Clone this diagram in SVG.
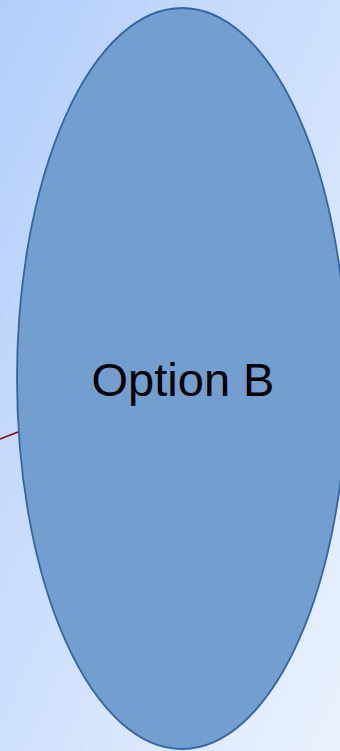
<svg xmlns="http://www.w3.org/2000/svg" width="340" height="751" viewBox="0 0 340 751">
  <defs>
    <linearGradient id="bg" x1="0" y1="0" x2="1" y2="1">
      <stop offset="0" stop-color="#b3cefa"/>
      <stop offset="1" stop-color="#ebf2fe"/>
    </linearGradient>
    <style>
      .node-shape { fill: #729fcf; stroke: #3465a4; stroke-width: 1.8; }
      .node-label { font-family: "Liberation Sans", Arial, sans-serif; font-size: 47px; fill: #000; text-anchor: middle; }
      .edge { stroke: #8b0000; stroke-width: 1.5; fill: none; }
    </style>
  </defs>
  <rect x="0" y="0" width="340" height="751" fill="url(#bg)"/>
  <g id="connectors">
    <line class="edge" x1="0" y1="439" x2="18" y2="432"/>
  </g>
  <g id="option-b">
    <ellipse class="node-shape" cx="182" cy="378.5" rx="165" ry="370.5"/>
    <text class="node-label" x="183" y="396">Option B</text>
  </g>
</svg>
